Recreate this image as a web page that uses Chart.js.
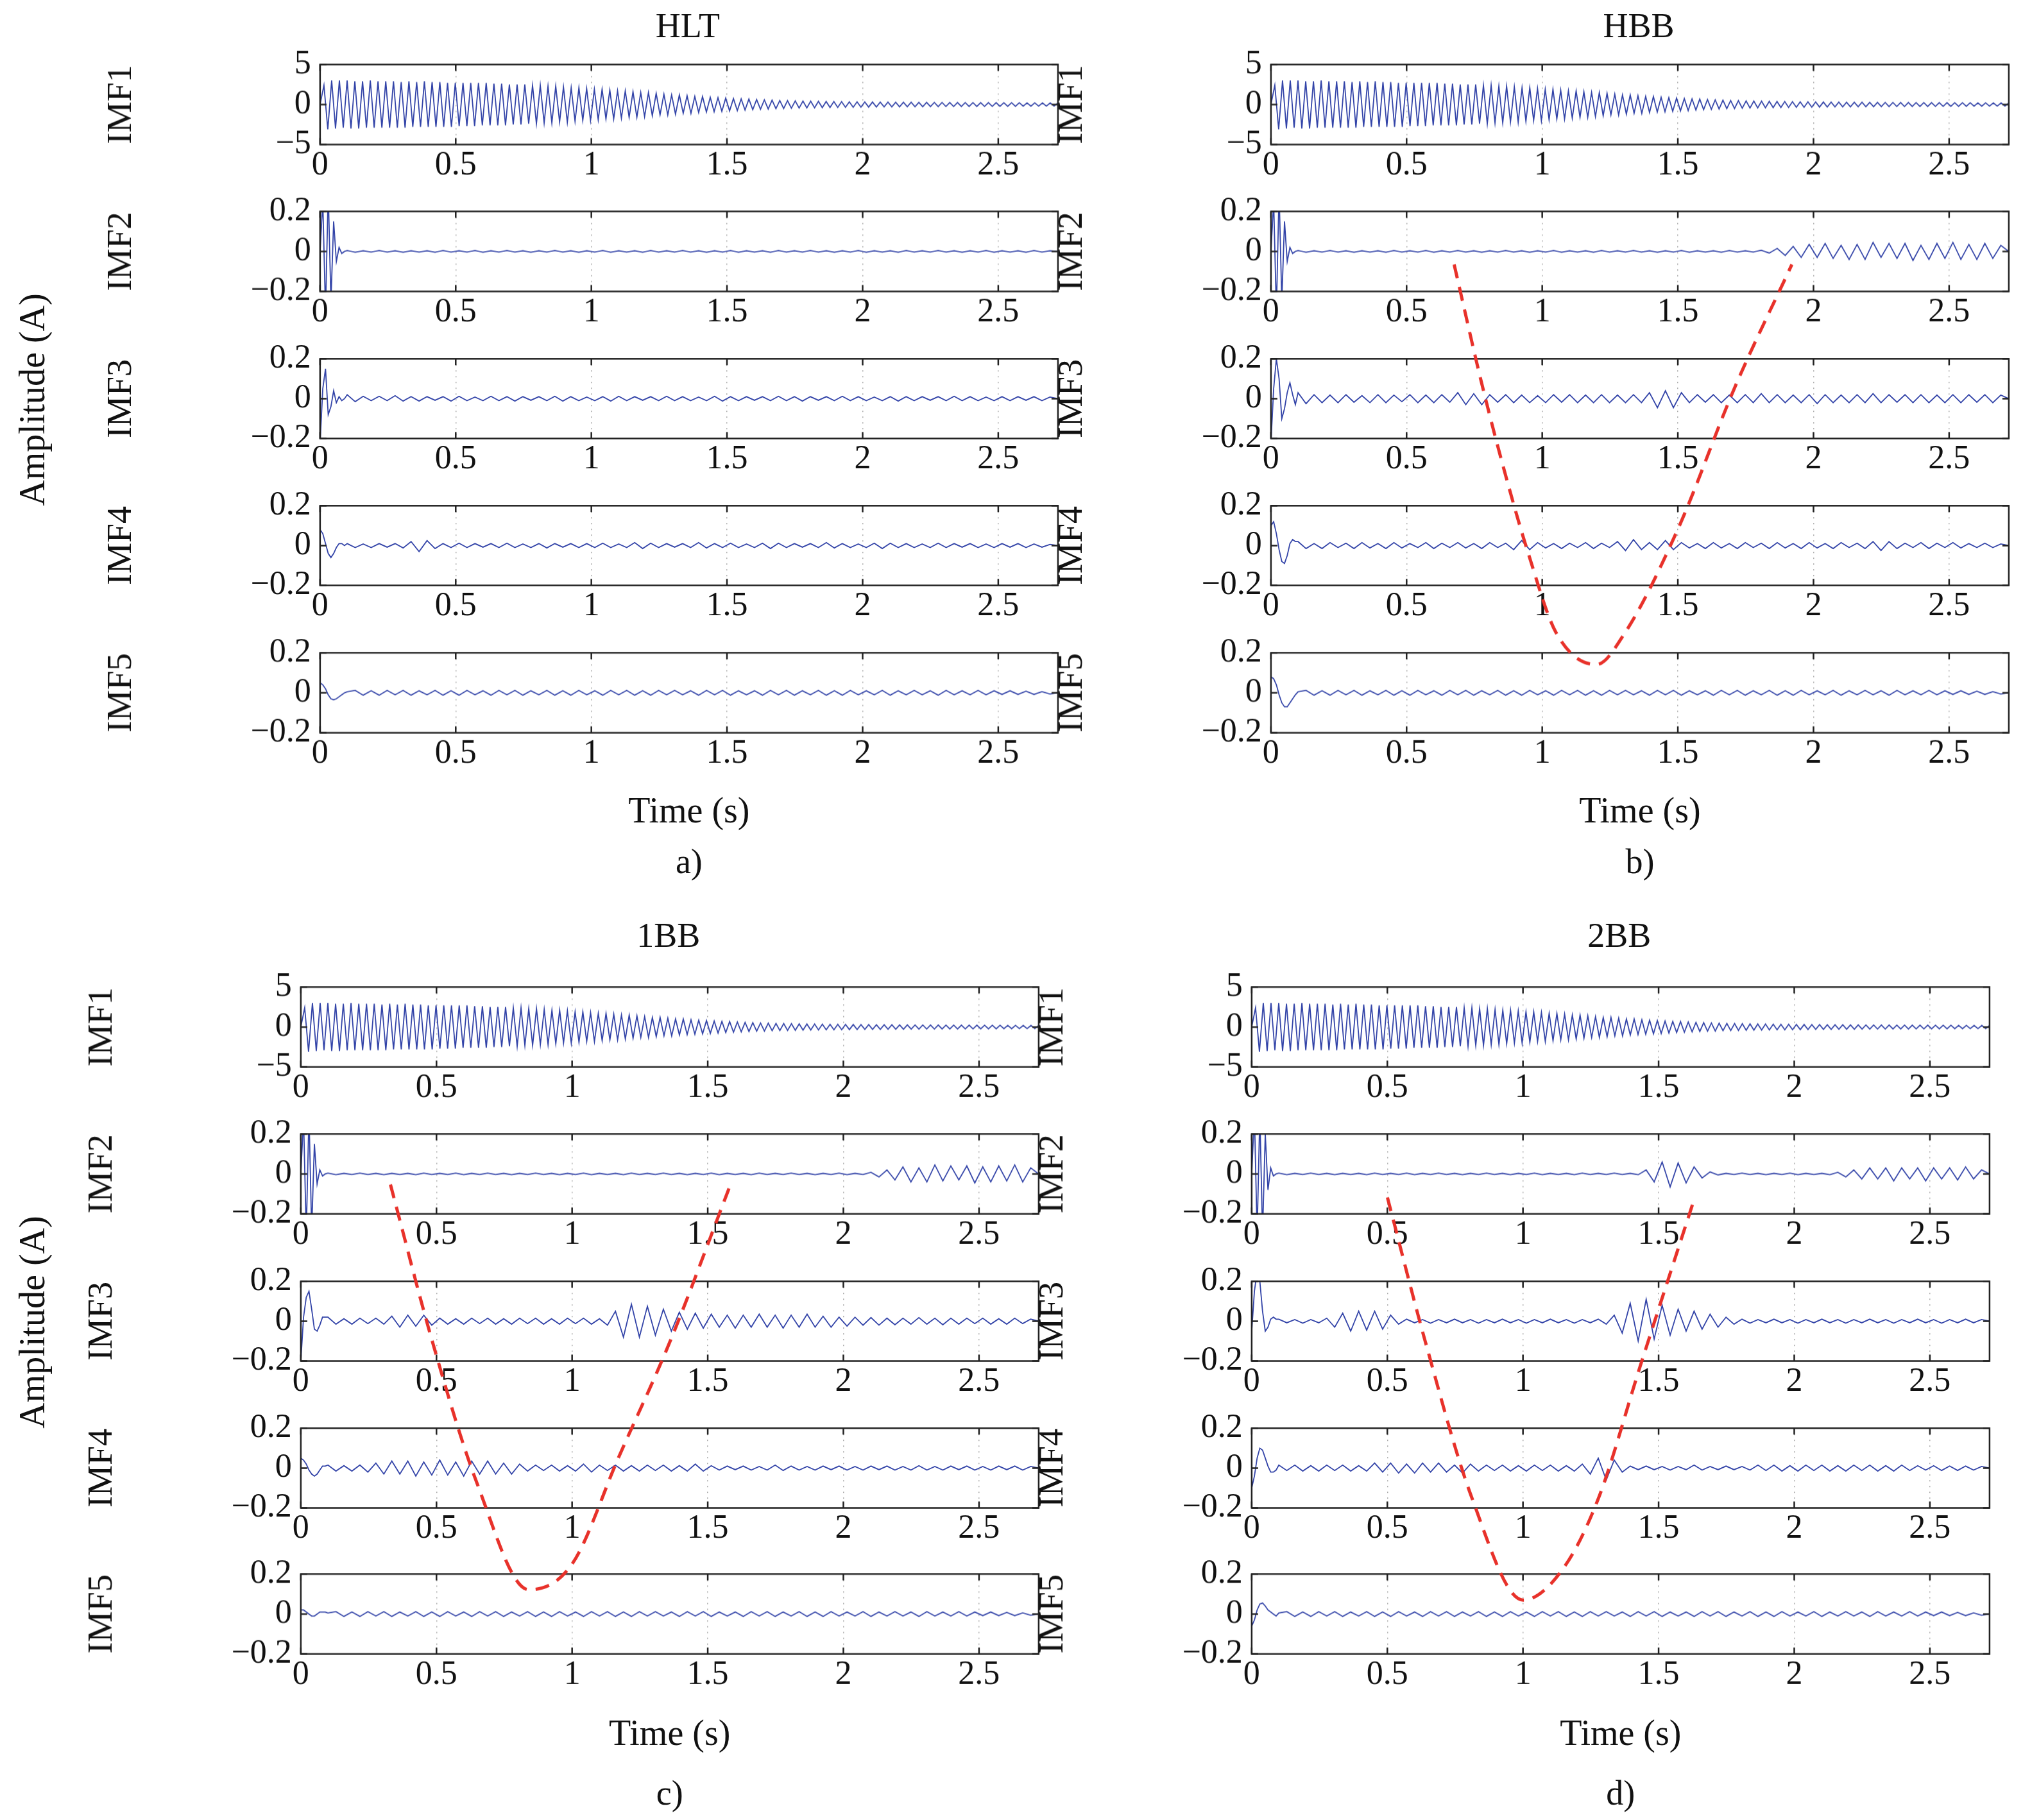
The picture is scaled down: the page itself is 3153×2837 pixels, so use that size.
<!DOCTYPE html>
<html><head><meta charset="utf-8">
<script src="https://cdn.jsdelivr.net/npm/chart.js@4.4.1/dist/chart.umd.min.js"></script>
<style>
body{margin:0;background:#fff;width:3153px;height:2837px;position:relative;overflow:hidden;font-family:'Liberation Serif',serif;}
canvas{position:absolute;}
.t{position:absolute;transform:translate(-50%,-50%);font-size:54px;color:#111;white-space:nowrap;}
.r{transform:translate(-50%,-50%) rotate(-90deg);}
</style></head><body>
<script>
const S=2.011;
const xTicks=[0,0.5,1,1.5,2,2.5];
const xTickLabels=['0','0.5','1','1.5','2','2.5'];
const yTicksBig=[-5,0,5], yLabelsBig=['\u22125','0','5'];
const yTicksSmall=[-0.2,0,0.2], yLabelsSmall=['\u22120.2','0','0.2'];
const imfNames=['IMF1','IMF2','IMF3','IMF4','IMF5'];
const panelTitles=['HLT','HBB','1BB','2BB'];
const panelLetters=['a)','b)','c)','d)'];

const imf1=[0,2.4,-3.1,3.0,-3.0,3.0,-2.9,3.0,-3.0,2.9,-3.0,2.9,-2.9,3.0,-2.9,2.9,-2.9,2.9,-2.9,2.9,
-2.9,2.8,-2.9,2.9,-2.8,2.8,-2.8,2.9,-2.8,2.8,-2.8,2.8,-2.8,2.7,-2.8,2.7,-2.7,2.7,-2.7,2.7,
-2.7,2.7,-2.6,2.7,-2.6,2.6,-2.6,2.6,-2.6,2.5,-2.5,2.5,-2.5,2.5,-2.4,2.4,-2.4,2.4,-2.3,2.3,
-2.3,2.3,-2.2,2.2,-2.2,2.1,-2.1,2.1,-2.0,2.0,-2.0,1.9,-1.9,1.9,-1.8,1.8,-1.8,1.7,-1.7,1.7,
-1.6,1.6,-1.6,1.5,-1.5,1.5,-1.4,1.4,-1.3,1.3,-1.3,1.2,-1.2,1.2,-1.1,1.1,-1.1,1.0,-1.0,1.0,
-0.95,0.9,-0.9,0.85,-0.85,0.8,-0.8,0.75,-0.75,0.7,-0.7,0.68,-0.65,0.62,-0.6,0.58,-0.56,0.54,-0.52,0.5,
-0.5,0.48,-0.46,0.45,-0.44,0.43,-0.42,0.41,-0.4,0.4,-0.39,0.38,-0.37,0.37,-0.36,0.35,-0.35,0.34,-0.34,0.33,
-0.33,0.32,-0.32,0.31,-0.31,0.3,-0.3,0.3,-0.29,0.29,-0.29,0.28,-0.28,0.28,-0.27,0.27,-0.27,0.27,-0.26,0.26,
-0.26,0.26,-0.25,0.25,-0.25,0.25,-0.24,0.24,-0.24,0.24,-0.24,0.23,-0.23,0.23,-0.23,0.23,-0.22,0.22,-0.22,0.22,
-0.22,0.22,-0.21,0.21,-0.21,0.21,-0.2,0.2,-0.2,0.2,-0.2,0.2];

// transients (t = 0 .. 0.09 s)
const hlt2T=[0,.25,-.3,.3,-.25,.15,-.05,.02,-.01,0];
const hlt3T=[-.22,.05,.15,-.08,-.04,.04,-.02,.01,-.01,0];
const hlt4T=[.08,.06,.01,-.04,-.06,-.04,-.01,.01,.01,0];
const hlt5T=[.05,.04,.02,-.01,-.03,-.035,-.03,-.02,-.01,0];
const hbb2T=[0,.25,-.3,.3,-.25,.15,-.05,.02,-.01,0];
const hbb3T=[-.22,.05,.2,.1,-.1,-.05,.03,.08,.02,-.03];
const hbb4T=[.1,.12,.06,-.02,-.08,-.09,-.05,.01,.03,.02];
const hbb5T=[.08,.07,.04,-.01,-.05,-.07,-.07,-.05,-.03,-.01];
const b1_2T=[0,.28,-.3,.3,-.28,.15,-.05,.02,-.01,0];
const b1_3T=[-.2,.02,.12,.15,.06,-.04,-.05,-.02,.02,.02];
const b1_4T=[.05,.04,.02,-.01,-.03,-.04,-.03,-.01,.01,.01];
const b1_5T=[.02,.02,.01,0,-.01,-.01,0,.01,.01,.01];
const b2_2T=[0,.3,-.3,.3,-.3,.2,-.08,.03,-.01,0];
const b2_3T=[-.05,.15,.25,.2,.05,-.05,-.03,.01,.02,.01];
const b2_4T=[-.1,-.04,.05,.1,.09,.05,.01,-.02,-.02,-.01];
const b2_5T=[-.06,-.03,.02,.05,.055,.04,.02,.01,0,-.01];

// bodies (t = 0.1 .. 2.72 s)
const hlt2B=[.004,-.004,.003,-.003,.004,-.003,.003,-.004,.003,-.003,
.003,-.004,.004,-.003,.003,-.003,.004,-.004,.003,-.003,
.004,-.003,.003,-.004,.003,-.003,.004,-.003,.003,-.004,
.003,-.003,.004,-.004,.003,-.003,.003,-.004,.004,-.003,
.003,-.003,.004,-.003,.003,-.004,.003,-.003,.004,-.004,
.003,-.003,.003,-.004,.004,-.003,.003,-.003,.004,-.003,
.003,-.004,.003,-.003,.004,-.004,.003,-.003,.003,-.004,
.004,-.003,.003,-.003,.004,-.003,.003,-.004,.003,-.003,
.004,-.004,.003,-.003,.003,-.004,.004,-.003,.003,0];
const hlt3B=[.02,-.015,.012,-.01,.012,-.01,.015,-.012,.01,-.012,
.01,-.008,.01,-.012,.012,-.01,.008,-.01,.012,-.01,
.01,-.012,.01,-.008,.01,-.01,.012,-.012,.01,-.01,
.008,-.01,.01,-.012,.012,-.01,.01,-.008,.01,-.01,
.012,-.01,.01,-.01,.008,-.01,.012,-.012,.01,-.01,
.01,-.008,.01,-.01,.012,-.01,.01,-.012,.01,-.008,
.01,-.01,.012,-.01,.01,-.01,.008,-.01,.01,-.012,
.01,-.01,.01,-.008,.01,-.01,.012,-.01,.01,-.01,
.008,-.01,.01,-.01,.01,-.008,.01,-.01,.008,0];
const hlt4B=[.01,-.01,.008,-.01,.01,-.008,.01,-.012,.02,-.03,
.025,-.015,.01,-.01,.012,-.01,.01,-.008,.01,-.01,
.012,-.01,.008,-.01,.01,-.012,.01,-.008,.01,-.01,
.01,-.01,.012,-.01,.008,-.01,.015,-.015,.012,-.01,
.01,-.008,.01,-.01,.015,-.012,.01,-.01,.012,-.01,
.008,-.01,.012,-.015,.012,-.01,.01,-.008,.01,-.01,
.015,-.012,.01,-.01,.008,-.01,.012,-.015,.012,-.01,
.01,-.01,.008,-.01,.012,-.01,.01,-.008,.01,-.01,
.008,-.01,.01,-.008,.01,-.01,.008,-.008,.006,0];
const imf5B=[.005,.012,-.012,.01,-.012,.012,-.01,.012,-.012,.01,
-.01,.012,-.012,.01,-.012,.012,-.01,.01,-.012,.012,
-.01,.012,-.012,.01,-.01,.012,-.012,.01,-.012,.012,
-.01,.01,-.012,.012,-.01,.012,-.012,.01,-.012,.012,
-.01,.012,-.01,.01,-.012,.012,-.01,.012,-.012,.01,
-.01,.01,-.012,.012,-.01,.012,-.012,.01,-.01,.012,
-.012,.01,-.012,.012,-.01,.01,-.01,.012,-.012,.01,
-.01,.012,-.01,.01,-.012,.012,-.01,.01,-.01,.012,
-.01,.01,-.008,.01,-.008,.008,-.008,.006,-.006,0];
const hbb2B=[.004,-.004,.003,-.003,.004,-.003,.003,-.004,.003,-.003,
.003,-.004,.004,-.003,.003,-.003,.004,-.004,.003,-.003,
.004,-.003,.003,-.004,.003,-.003,.004,-.003,.003,-.004,
.003,-.003,.004,-.004,.003,-.003,.003,-.004,.004,-.003,
.003,-.003,.004,-.003,.003,-.004,.003,-.003,.004,-.004,
.003,-.003,.003,-.004,.004,-.003,.003,-.003,.006,-.008,
.015,-.02,.025,-.03,.035,-.03,.04,-.035,.03,-.04,
.035,-.04,.045,-.03,.04,-.035,.04,-.045,.03,-.04,
.04,-.035,.045,-.04,.035,-.04,.04,-.035,.03,0];
const hbb3B=[.03,-.025,.02,-.02,.018,-.02,.02,-.018,.015,-.02,
.02,-.02,.018,-.015,.02,-.02,.018,-.02,.02,-.018,
.03,-.03,.025,-.03,.02,-.018,.02,-.02,.018,-.02,
.015,-.02,.02,-.018,.02,-.02,.018,-.02,.02,-.02,
.018,-.02,.02,-.02,.03,-.045,.04,-.045,.03,-.02,
.02,-.018,.02,-.02,.018,-.02,.02,-.02,.025,-.02,
.02,-.02,.018,-.02,.02,-.025,.02,-.02,.018,-.02,
.02,-.02,.025,-.02,.02,-.018,.02,-.02,.02,-.02,
.018,-.02,.02,-.02,.02,-.018,.02,-.02,.018,0];
const hbb4B=[.02,-.015,.01,-.015,.015,-.01,.012,-.015,.015,-.012,
.01,-.015,.015,-.012,.01,-.01,.015,-.015,.012,-.01,
.015,-.012,.01,-.015,.015,-.01,.012,-.02,.025,-.02,
.015,-.012,.01,-.015,.012,-.01,.015,-.015,.012,-.01,
.02,-.025,.03,-.02,.015,-.02,.025,-.02,.015,-.012,
.01,-.015,.015,-.012,.01,-.015,.015,-.01,.012,-.015,
.015,-.012,.01,-.015,.015,-.012,.01,-.015,.015,-.01,
.012,-.015,.02,-.025,.02,-.015,.012,-.01,.015,-.015,
.012,-.01,.015,-.012,.01,-.01,.012,-.01,.008,0];
const b1_2B=[.004,-.004,.003,-.003,.004,-.003,.003,-.004,.003,-.003,
.003,-.004,.004,-.003,.003,-.003,.004,-.004,.003,-.003,
.004,-.003,.003,-.004,.003,-.003,.004,-.003,.003,-.004,
.003,-.003,.004,-.004,.003,-.003,.003,-.004,.004,-.003,
.003,-.003,.004,-.003,.003,-.004,.003,-.003,.004,-.004,
.003,-.003,.003,-.004,.004,-.003,.003,-.003,.004,-.003,
.003,-.004,.003,-.003,.004,-.004,.003,-.003,.008,-.015,
.02,-.03,.035,-.04,.03,-.04,.045,-.035,.04,-.03,
.04,-.045,.035,-.04,.04,-.035,.045,-.04,.03,0];
const b1_3B=[.02,-.015,.012,-.015,.015,-.012,.015,-.015,.025,-.03,
.03,-.025,.03,-.02,.015,-.015,.012,-.015,.015,-.012,
.015,-.015,.012,-.015,.015,-.012,.015,-.015,.012,-.015,
.015,-.012,.015,-.015,.012,-.02,.05,-.08,.085,-.08,
.075,-.07,.06,-.05,.045,-.04,.04,-.035,.035,-.03,
.03,-.035,.03,-.03,.035,-.03,.03,-.035,.03,-.03,
.035,-.03,.025,-.03,.02,-.025,.02,-.02,.018,-.02,
.015,-.018,.015,-.015,.018,-.015,.015,-.018,.015,-.015,
.015,-.012,.015,-.015,.012,-.015,.015,-.012,.01,0];
const b1_4B=[.015,-.015,.012,-.015,.015,-.02,.025,-.03,.035,-.03,
.035,-.04,.03,-.035,.04,-.035,.03,-.04,.035,-.03,
.035,-.03,.025,-.03,.02,-.015,.015,-.012,.015,-.015,
.012,-.015,.02,-.02,.015,-.012,.015,-.015,.012,-.015,
.015,-.012,.015,-.015,.012,-.015,.02,-.015,.012,-.01,
.01,-.008,.01,-.01,.008,-.01,.015,-.012,.01,-.01,
.008,-.01,.01,-.008,.01,-.01,.008,-.01,.01,-.008,
.01,-.01,.008,-.01,.012,-.01,.008,-.01,.01,-.008,
.01,-.01,.008,-.01,.01,-.008,.01,-.01,.008,0];
const b2_2B=[.004,-.004,.003,-.003,.004,-.003,.003,-.004,.003,-.003,
.003,-.004,.004,-.003,.003,-.003,.004,-.004,.003,-.003,
.004,-.003,.003,-.004,.003,-.003,.004,-.003,.003,-.004,
.003,-.003,.004,-.004,.003,-.003,.003,-.004,.004,-.003,
.003,-.003,.004,-.003,.003,-.004,.02,-.04,.06,-.065,
.055,-.045,.035,-.02,.01,-.005,.003,-.003,.004,-.003,
.003,-.004,.003,-.003,.004,-.004,.003,-.003,.003,-.004,
.008,-.015,.02,-.025,.03,-.025,.03,-.035,.03,-.025,
.03,-.035,.03,-.025,.03,-.03,.035,-.025,.02,0];
const b2_3B=[.01,-.008,.008,-.01,.008,-.008,.015,-.03,.04,-.05,
.05,-.045,.05,-.04,.03,-.015,.01,-.008,.008,-.01,
.008,-.008,.01,-.008,.008,-.01,.008,-.008,.01,-.008,
.008,-.01,.008,-.008,.01,-.008,.008,-.01,.008,-.008,
.01,-.015,.03,-.06,.09,-.1,.11,-.09,.08,-.07,
.06,-.05,.05,-.04,.035,-.03,.02,-.015,.01,-.01,
.008,-.008,.01,-.008,.008,-.01,.008,-.008,.01,-.008,
.008,-.01,.008,-.008,.01,-.008,.008,-.01,.008,-.008,
.01,-.008,.008,-.01,.008,-.008,.01,-.008,.008,0];
const b2_4B=[.015,-.012,.015,-.015,.012,-.015,.015,-.012,.015,-.015,
.012,-.015,.025,-.02,.025,-.025,.02,-.025,.025,-.02,
.025,-.02,.015,-.025,.02,-.015,.015,-.012,.015,-.015,
.012,-.015,.015,-.012,.015,-.015,.012,-.015,.02,-.03,
.05,-.06,.04,-.02,.01,-.008,.01,-.008,.008,-.01,
.008,-.008,.015,-.01,.008,-.008,.01,-.008,.008,-.01,
.015,-.012,.015,-.015,.012,-.015,.015,-.012,.015,-.015,
.012,-.015,.015,-.012,.015,-.015,.012,-.015,.015,-.012,
.012,-.01,.012,-.012,.01,-.012,.01,-.01,.008,0];

// red dashed curves: [time (s), figure row position in reference px]
const hbbCurveT=[0.675,0.78,0.88,0.95,1.05,1.2,1.3,1.5,1.71,1.92];
const hbbCurveY=[205,300,380,430,490,515,492,410,300,205];
const b1CurveT=[0.33,0.485,0.65,0.84,1.0,1.17,1.36,1.58];
const b1CurveY=[918,1040,1150,1232,1212,1130,1040,920];
const b2CurveT=[0.5,0.64,0.81,1.0,1.15,1.28,1.43,1.63];
const b2CurveY=[928,1040,1160,1240,1215,1160,1060,930];

const panels=[
 {x:248,rows:[50,164,278,392,506],tY:20,timeY:628,letY:668,T:[null,hlt2T,hlt3T,hlt4T,hlt5T],B:[null,hlt2B,hlt3B,hlt4B,imf5B]},
 {x:985,rows:[50,164,278,392,506],tY:20,timeY:628,letY:668,T:[null,hbb2T,hbb3T,hbb4T,hbb5T],B:[null,hbb2B,hbb3B,hbb4B,imf5B],cT:hbbCurveT,cY:hbbCurveY},
 {x:233,rows:[765,879,993,1107,1220],tY:725,timeY:1343,letY:1390,T:[null,b1_2T,b1_3T,b1_4T,b1_5T],B:[null,b1_2B,b1_3B,b1_4B,imf5B],cT:b1CurveT,cY:b1CurveY},
 {x:970,rows:[765,879,993,1107,1220],tY:725,timeY:1343,letY:1390,T:[null,b2_2T,b2_3T,b2_4T,b2_5T],B:[null,b2_2B,b2_3B,b2_4B,imf5B],cT:b2CurveT,cY:b2CurveY}
];
const PW=572,PH=62,YW=170,TP=30,RP=10,XH=42;
Chart.defaults.font.family="'Liberation Serif', serif";
Chart.defaults.color='#111';
const boxPlugin={id:'box',afterDraw(c){const a=c.chartArea,g=c.ctx;g.save();g.strokeStyle='#222';g.lineWidth=2.5;
  g.beginPath();
  const tl=10;
  c.scales.x.ticks.forEach(t=>{const px=c.scales.x.getPixelForValue(t.value);g.moveTo(px,a.top);g.lineTo(px,a.top+tl);g.moveTo(px,a.bottom);g.lineTo(px,a.bottom-tl);});
  c.scales.y.ticks.forEach(t=>{const py=c.scales.y.getPixelForValue(t.value);g.moveTo(a.left,py);g.lineTo(a.left+tl,py);g.moveTo(a.right,py);g.lineTo(a.right-tl,py);});
  g.stroke();
  g.strokeRect(a.left,a.top,a.right-a.left,a.bottom-a.top);g.restore();}};

function pts(vals,isBig){
  const n=vals.length;
  return vals.map((v,i)=>({x:isBig? i*2.72/(n-1) : (i<10? i*0.01 : 0.1+(i-10)*2.62/(n-11)), y:v}));
}
function addText(txt,x,y,cls,size){const d=document.createElement('div');d.className='t'+(cls?' '+cls:'');d.textContent=txt;d.style.left=(x*S)+'px';d.style.top=(y*S)+'px';if(size)d.style.fontSize=size+'px';document.body.appendChild(d);}
function makeCanvas(l,t,w,h){const c=document.createElement('canvas');c.style.left=l+'px';c.style.top=t+'px';c.style.width=w+'px';c.style.height=h+'px';c.width=w;c.height=h;document.body.appendChild(c);return c;}

panels.forEach((p,pi)=>{
  p.rows.forEach((ry,ri)=>{
    const big=ri===0;
    const vals=big? imf1 : p.T[ri].concat(p.B[ri]);
    const yT=big?yTicksBig:yTicksSmall, yL=big?yLabelsBig:yLabelsSmall;
    const cv=makeCanvas((p.x-YW)*S,(ry-TP)*S,(YW+PW+RP)*S,(TP+PH+XH)*S);
    new Chart(cv,{type:'line',
      data:{datasets:[{data:pts(vals,big),borderColor:'#3344a8',borderWidth:1.8,pointRadius:0,tension:0,fill:false}]},
      options:{responsive:false,animation:false,devicePixelRatio:1,
        layout:{padding:{top:TP*S,right:RP*S,left:0,bottom:0}},
        plugins:{legend:{display:false},tooltip:{enabled:false}},
        scales:{
          x:{type:'linear',min:0,max:2.72,
            afterBuildTicks(s){s.ticks=xTicks.map(v=>({value:v}));},
            afterFit(s){s.height=XH*S;},
            ticks:{font:{size:52},padding:2,maxRotation:0,autoSkip:false,callback:(v)=>{const k=xTicks.indexOf(v);return k>=0?xTickLabels[k]:'';}},
            grid:{display:true,drawTicks:false,color:'#aaa',lineWidth:1.5},
            border:{display:false,dash:[2,7]}},
          y:{type:'linear',min:big?-5:-0.2,max:big?5:0.2,
            afterBuildTicks(s){s.ticks=yT.map(v=>({value:v}));},
            afterFit(s){s.width=YW*S;},
            ticks:{font:{size:52},padding:14,autoSkip:false,callback:(v)=>{const k=yT.indexOf(v);return k>=0?yL[k]:'';}},
            grid:{display:false,drawTicks:false},border:{display:false},
            title:{display:true,text:imfNames[ri],font:{size:54},padding:{top:0,bottom:0}}}
        }},plugins:[boxPlugin]});
  });
  addText(panelTitles[pi],p.x+PW/2-1,p.tY,'',54);
  addText('Time (s)',p.x+PW/2,p.timeY,'',56);
  addText(panelLetters[pi],p.x+PW/2,p.letY,'',54);
  if(p.cT){
    const cv=makeCanvas(p.x*S,0,PW*S,1412*S);
    cv.style.zIndex=5;
    new Chart(cv,{type:'line',
      data:{datasets:[{data:p.cT.map((t,i)=>({x:t,y:p.cY[i]})),borderColor:'#e8312a',borderWidth:5,borderDash:[22,14],pointRadius:0,tension:0.4,cubicInterpolationMode:'monotone',fill:false}]},
      options:{responsive:false,animation:false,devicePixelRatio:1,layout:{padding:0},
        plugins:{legend:{display:false},tooltip:{enabled:false}},
        scales:{x:{type:'linear',min:0,max:2.72,display:false},y:{type:'linear',min:0,max:1412,reverse:true,display:false}}}});
  }
});
addText('Amplitude (A)',25,310,'r',56);
addText('Amplitude (A)',25,1025,'r',56);
</script>
</body></html>
